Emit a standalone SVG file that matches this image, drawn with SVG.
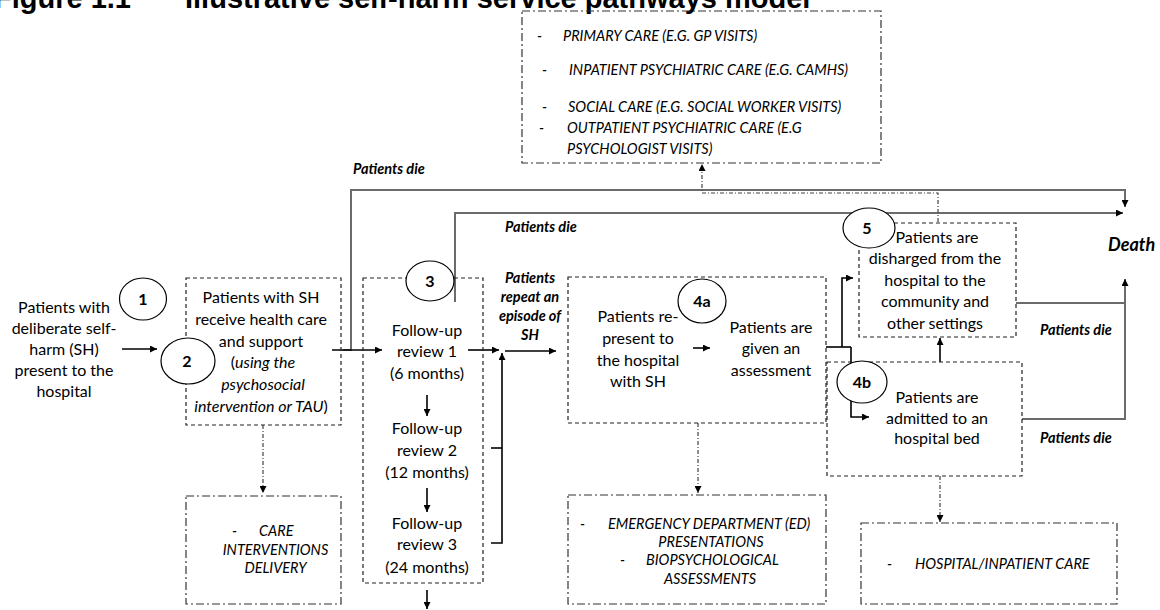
<svg xmlns="http://www.w3.org/2000/svg" width="1160" height="610" viewBox="0 0 1160 610">
<defs>
<marker id="ah" viewBox="0 0 10 10" refX="10" refY="5" markerWidth="7" markerHeight="7" markerUnits="userSpaceOnUse" orient="auto"><path d="M0,0 L10,5 L0,10 z" fill="#000"/></marker>
<style>
.t{font-family:Lato,"Liberation Sans",sans-serif;font-size:16px;fill:#000}
.c{text-anchor:middle}
.it{font-style:italic}
.cap{font-family:Lato,"Liberation Sans",sans-serif;font-size:14.5px;font-style:italic;fill:#000}
.bi{font-family:Lato,"Liberation Sans",sans-serif;font-size:14.5px;font-weight:bold;font-style:italic;fill:#000}
.num{font-family:Lato,"Liberation Sans",sans-serif;font-size:16px;font-weight:bold;text-anchor:middle;fill:#000}
.ttl{font-family:"Liberation Sans",Arial,sans-serif;font-size:29px;font-weight:bold;fill:#000}
.dbox{fill:none;stroke:#222;stroke-width:1.2;stroke-dasharray:4 3}
.ddbox{fill:none;stroke:#333;stroke-width:1.2;stroke-dasharray:8 3 2 3}
.circ{fill:#fff;stroke:#000;stroke-width:1.2}
.gl{fill:none;stroke:#6b6b6b;stroke-width:2}
.bl{fill:none;stroke:#000;stroke-width:1.6}
.dc{fill:none;stroke:#444;stroke-width:1.2;stroke-dasharray:4 2 1 2}
</style>
</defs>
<rect width="1160" height="610" fill="#fff"/>
<g id="title">
<text class="ttl" x="-6" y="8">Figure 1.1</text>
<text class="ttl" x="185" y="8">Illustrative self-harm service pathways model</text>
</g>
<g id="connectors">
<path class="gl" d="M343,350 H351 V190 H1125 V207" marker-end="url(#ah)"/>
<path class="gl" d="M455,302 V213 H1123" marker-end="url(#ah)"/>
<path class="gl" d="M1016,303 H1125 V279" marker-end="url(#ah)"/>
<path class="gl" d="M1022,419 H1125 V303"/>
<path class="bl" d="M122,349 H157" marker-end="url(#ah)"/>
<path class="bl" d="M332,350 H382" marker-end="url(#ah)"/>
<path class="bl" d="M427,395 V416" marker-end="url(#ah)"/>
<path class="bl" d="M427,488 V512" marker-end="url(#ah)"/>
<path class="bl" d="M427,590 V609" marker-end="url(#ah)"/>
<path class="bl" d="M468,350 H499" marker-end="url(#ah)"/>
<path class="bl" d="M491,543 H502 V353" marker-end="url(#ah)"/>
<path class="bl" d="M491,448 H502"/>
<path class="bl" d="M505,351 H556" marker-end="url(#ah)"/>
<path class="bl" d="M693,348 H710" marker-end="url(#ah)"/>
<path class="bl" d="M826,347 H851"/>
<path class="bl" d="M842,347 V278 H853" marker-end="url(#ah)"/>
<path class="bl" d="M851,347 V417 H869" marker-end="url(#ah)"/>
<path class="bl" d="M940,362 V338" marker-end="url(#ah)"/>
<path class="dc" d="M938,222 V193 H702 V164" marker-end="url(#ah)"/>
<path class="dc" d="M263,425 V493" marker-end="url(#ah)"/>
<path class="dc" d="M698,423 V493" marker-end="url(#ah)"/>
<path class="dc" d="M940,476 V522" marker-end="url(#ah)"/>
</g>
<g id="labels">
<text class="bi" x="353" y="174">Patients die</text>
<text class="bi" x="505" y="232">Patients die</text>
<text class="bi" x="1040" y="335">Patients die</text>
<text class="bi" x="1040" y="443">Patients die</text>
<text class="bi c" x="530" y="283">Patients</text>
<text class="bi c" x="530" y="302">repeat an</text>
<text class="bi c" x="530" y="321">episode of</text>
<text class="bi c" x="530" y="340">SH</text>
</g>
<g id="services-top">
<rect class="ddbox" x="522" y="11" width="359" height="152"/>
<text class="cap" x="537" y="41">-</text><text class="cap" x="563" y="41">PRIMARY CARE (E.G. GP VISITS)</text>
<text class="cap" x="542" y="75">-</text><text class="cap" x="569" y="75">INPATIENT PSYCHIATRIC CARE (E.G. CAMHS)</text>
<text class="cap" x="542" y="112">-</text><text class="cap" x="568" y="112">SOCIAL CARE (E.G. SOCIAL WORKER VISITS)</text>
<text class="cap" x="539" y="133">-</text><text class="cap" x="567" y="133">OUTPATIENT PSYCHIATRIC CARE (E.G</text>
<text class="cap" x="567" y="154">PSYCHOLOGIST VISITS)</text>
</g>
<g id="node1">
<text class="t c" x="64" y="313">Patients with</text>
<text class="t c" x="64" y="334">deliberate self-</text>
<text class="t c" x="64" y="355">harm (SH)</text>
<text class="t c" x="64" y="376">present to the</text>
<text class="t c" x="64" y="397">hospital</text>
<ellipse class="circ" cx="143" cy="299" rx="23.5" ry="21"/>
<text class="num" x="143" y="305">1</text>
</g>
<g id="node2">
<rect class="dbox" x="186" y="278" width="155" height="147"/>
<ellipse class="circ" cx="188" cy="361" rx="27" ry="23"/>
<text class="num" x="187" y="367">2</text>
<text class="t c" x="261" y="303">Patients with SH</text>
<text class="t c" x="261" y="325">receive health care</text>
<text class="t c" x="261" y="347">and support</text>
<text class="t c" x="263" y="368">(<tspan class="it">using the</tspan></text>
<text class="t c it" x="263" y="390">psychosocial</text>
<text class="t c" x="261" y="412"><tspan class="it">intervention or TAU</tspan>)</text>
</g>
<g id="node3">
<rect class="dbox" x="363" y="278" width="120" height="305"/>
<ellipse class="circ" cx="430" cy="281" rx="24" ry="20"/>
<text class="num" x="430" y="287">3</text>
<text class="t c" x="427" y="336">Follow-up</text>
<text class="t c" x="427" y="357">review 1</text>
<text class="t c" x="427" y="379">(6 months)</text>
<text class="t c" x="427" y="434">Follow-up</text>
<text class="t c" x="427" y="456">review 2</text>
<text class="t c" x="427" y="478">(12 months)</text>
<text class="t c" x="427" y="529">Follow-up</text>
<text class="t c" x="427" y="550">review 3</text>
<text class="t c" x="427" y="573">(24 months)</text>
</g>
<g id="node4a">
<rect class="dbox" x="568" y="277" width="258" height="146"/>
<ellipse class="circ" cx="702" cy="301" rx="24" ry="22"/>
<text class="num" x="702" y="307">4a</text>
<text class="t c" x="638" y="322">Patients re-</text>
<text class="t c" x="638" y="344">present to</text>
<text class="t c" x="638" y="366">the hospital</text>
<text class="t c" x="638" y="387">with SH</text>
<text class="t c" x="771" y="333">Patients are</text>
<text class="t c" x="771" y="354">given an</text>
<text class="t c" x="771" y="376">assessment</text>
</g>
<g id="node5">
<rect class="dbox" x="859" y="223" width="157" height="114"/>
<ellipse class="circ" cx="869" cy="228" rx="26" ry="20"/>
<text class="num" x="867" y="234">5</text>
<text class="t c" x="937" y="243">Patients are</text>
<text class="t c" x="935" y="264">disharged from the</text>
<text class="t c" x="935" y="286">hospital to the</text>
<text class="t c" x="935" y="307">community and</text>
<text class="t c" x="935" y="329">other settings</text>
</g>
<g id="node4b">
<rect class="dbox" x="827" y="362" width="195" height="114"/>
<ellipse class="circ" cx="862" cy="382" rx="25" ry="21"/>
<text class="num" x="862" y="388">4b</text>
<text class="t c" x="937" y="403">Patients are</text>
<text class="t c" x="937" y="424">admitted to an</text>
<text class="t c" x="937" y="444">hospital bed</text>
</g>
<g id="death">
<text class="bi" x="1108" y="251" style="font-size:18px">Death</text>
</g>
<g id="services-care">
<rect class="ddbox" x="186" y="496" width="155" height="108"/>
<text class="cap" x="232" y="536">-</text><text class="cap" x="259" y="536">CARE</text>
<text class="cap c" x="275.5" y="555">INTERVENTIONS</text>
<text class="cap c" x="275.5" y="573">DELIVERY</text>
</g>
<g id="services-ed">
<rect class="ddbox" x="568" y="495" width="258" height="109"/>
<text class="cap" x="580" y="529">-</text><text class="cap" x="608" y="529">EMERGENCY DEPARTMENT (ED)</text>
<text class="cap c" x="711" y="547">PRESENTATIONS</text>
<text class="cap" x="620" y="565">-</text><text class="cap" x="646" y="565">BIOPSYCHOLOGICAL</text>
<text class="cap c" x="710" y="584">ASSESSMENTS</text>
</g>
<g id="services-hospital">
<rect class="ddbox" x="861" y="523" width="256" height="81"/>
<text class="cap" x="887" y="569">-</text><text class="cap" x="915" y="569">HOSPITAL/INPATIENT CARE</text>
</g>
</svg>
